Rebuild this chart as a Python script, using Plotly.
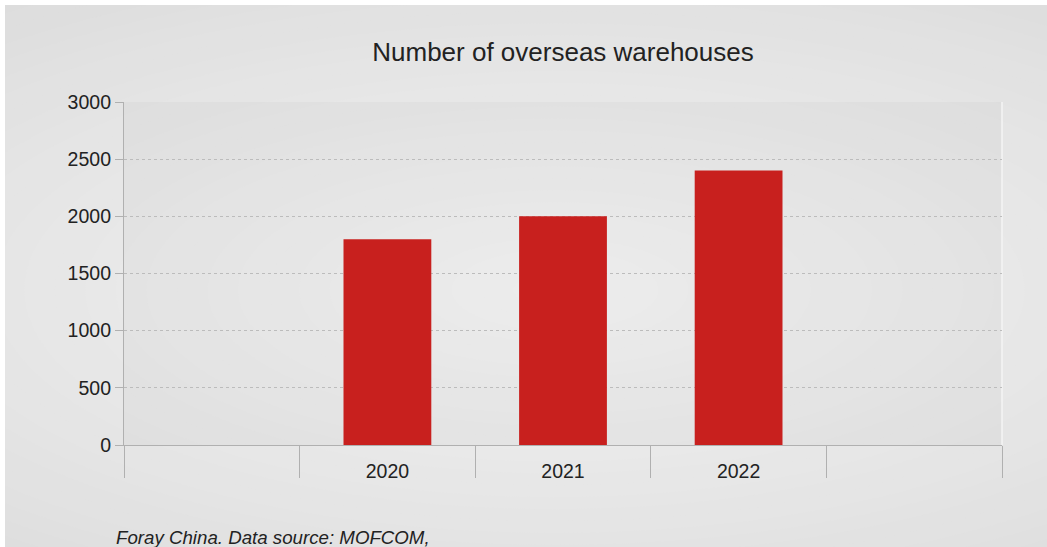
import plotly.graph_objects as go

# ---- data ----
years = ["2020", "2021", "2022"]
warehouses = [1800, 2000, 2400]
category_order = [" ", "2020", "2021", "2022", "  "]
y_ticks = [0, 500, 1000, 1500, 2000, 2500, 3000]
title_text = "Number of overseas warehouses"
caption_text = "Foray China. Data source: MOFCOM,"

W, H = 1047, 547
L, R, T, B = 124, 1002, 102, 445  # plot area in px


def px_x(p):
    return (p - L) / (R - L)


def px_y(p):
    return (B - p) / (B - T)


fig = go.Figure()
fig.add_trace(go.Bar(
    x=years, y=warehouses, width=0.5,
    marker=dict(color="#c8201e", line=dict(width=0)),
    hoverinfo="x+y", showlegend=False,
))

shapes = []
# radial gradient background (nested ellipses)
cx, cy = 555, 290
N = 34
rx_max, ry_max = 1050, 410
c_out, c_in = 0xd9, 0xf2
for i in range(N):
    f = i / (N - 1)
    rx = rx_max * (1 - f * 0.96)
    ry = ry_max * (1 - f * 0.96)
    c = int(round(c_out + (c_in - c_out) * (f ** 0.9)))
    col = f"rgb({c},{c},{c})"
    shapes.append(dict(type="circle", xref="paper", yref="paper", layer="below",
                       x0=px_x(cx - rx), x1=px_x(cx + rx),
                       y0=px_y(cy + ry), y1=px_y(cy - ry),
                       fillcolor=col, line=dict(width=0)))
# white border strips (top, left)
shapes.append(dict(type="rect", xref="paper", yref="paper", layer="below",
                   x0=px_x(-5), x1=px_x(W + 5), y0=px_y(5), y1=px_y(-5),
                   fillcolor="white", line=dict(width=0)))
shapes.append(dict(type="rect", xref="paper", yref="paper", layer="below",
                   x0=px_x(-5), x1=px_x(5), y0=px_y(H + 5), y1=px_y(-5),
                   fillcolor="white", line=dict(width=0)))
# slightly darker plot area
shapes.append(dict(type="rect", xref="paper", yref="paper", layer="below",
                   x0=0, x1=1, y0=0, y1=1,
                   fillcolor="rgba(0,0,0,0.025)", line=dict(width=0)))
# light right border of plot area
shapes.append(dict(type="line", xref="paper", yref="paper", layer="below",
                   x0=1, x1=1, y0=0, y1=1,
                   line=dict(color="#f4f4f4", width=1.5)))

fig.update_layout(
    width=W, height=H,
    margin=dict(l=L, r=W - R, t=T, b=H - B, pad=0),
    paper_bgcolor="white",
    plot_bgcolor="rgba(0,0,0,0)",
    font=dict(family="Liberation Sans, Arial, sans-serif", size=19.5, color="#222222"),
    title=dict(text=title_text, x=(L + R) / 2 / W, xanchor="center",
               y=1 - 52 / H, yanchor="middle",
               font=dict(size=26, color="#222222")),
    shapes=shapes,
    bargap=0.5,
    xaxis=dict(
        type="category", categoryorder="array", categoryarray=category_order,
        range=[-0.5, len(category_order) - 0.5],
        showline=True, linecolor="#b0b0b0", linewidth=1.2,
        ticks="outside", tickson="boundaries", ticklen=32, tickcolor="#b0b0b0",
        tickwidth=1.2, ticklabelstandoff=8,
        showgrid=False, zeroline=False, fixedrange=True,
    ),
    yaxis=dict(
        range=[0, 3000], tickvals=y_ticks,
        showline=True, linecolor="#b0b0b0", linewidth=1.2,
        ticks="outside", ticklen=8, tickcolor="#b0b0b0", tickwidth=1.2,
        showgrid=True, gridcolor="#bcbcbc", griddash="dot", gridwidth=1,
        zeroline=False, fixedrange=True,
    ),
    annotations=[dict(
        text=caption_text, xref="paper", yref="paper",
        x=px_x(114), y=px_y(537), xanchor="left", yanchor="middle",
        showarrow=False, font=dict(size=18.7, color="#222222", style="italic"),
    )],
)

fig.write_html("out.html")
